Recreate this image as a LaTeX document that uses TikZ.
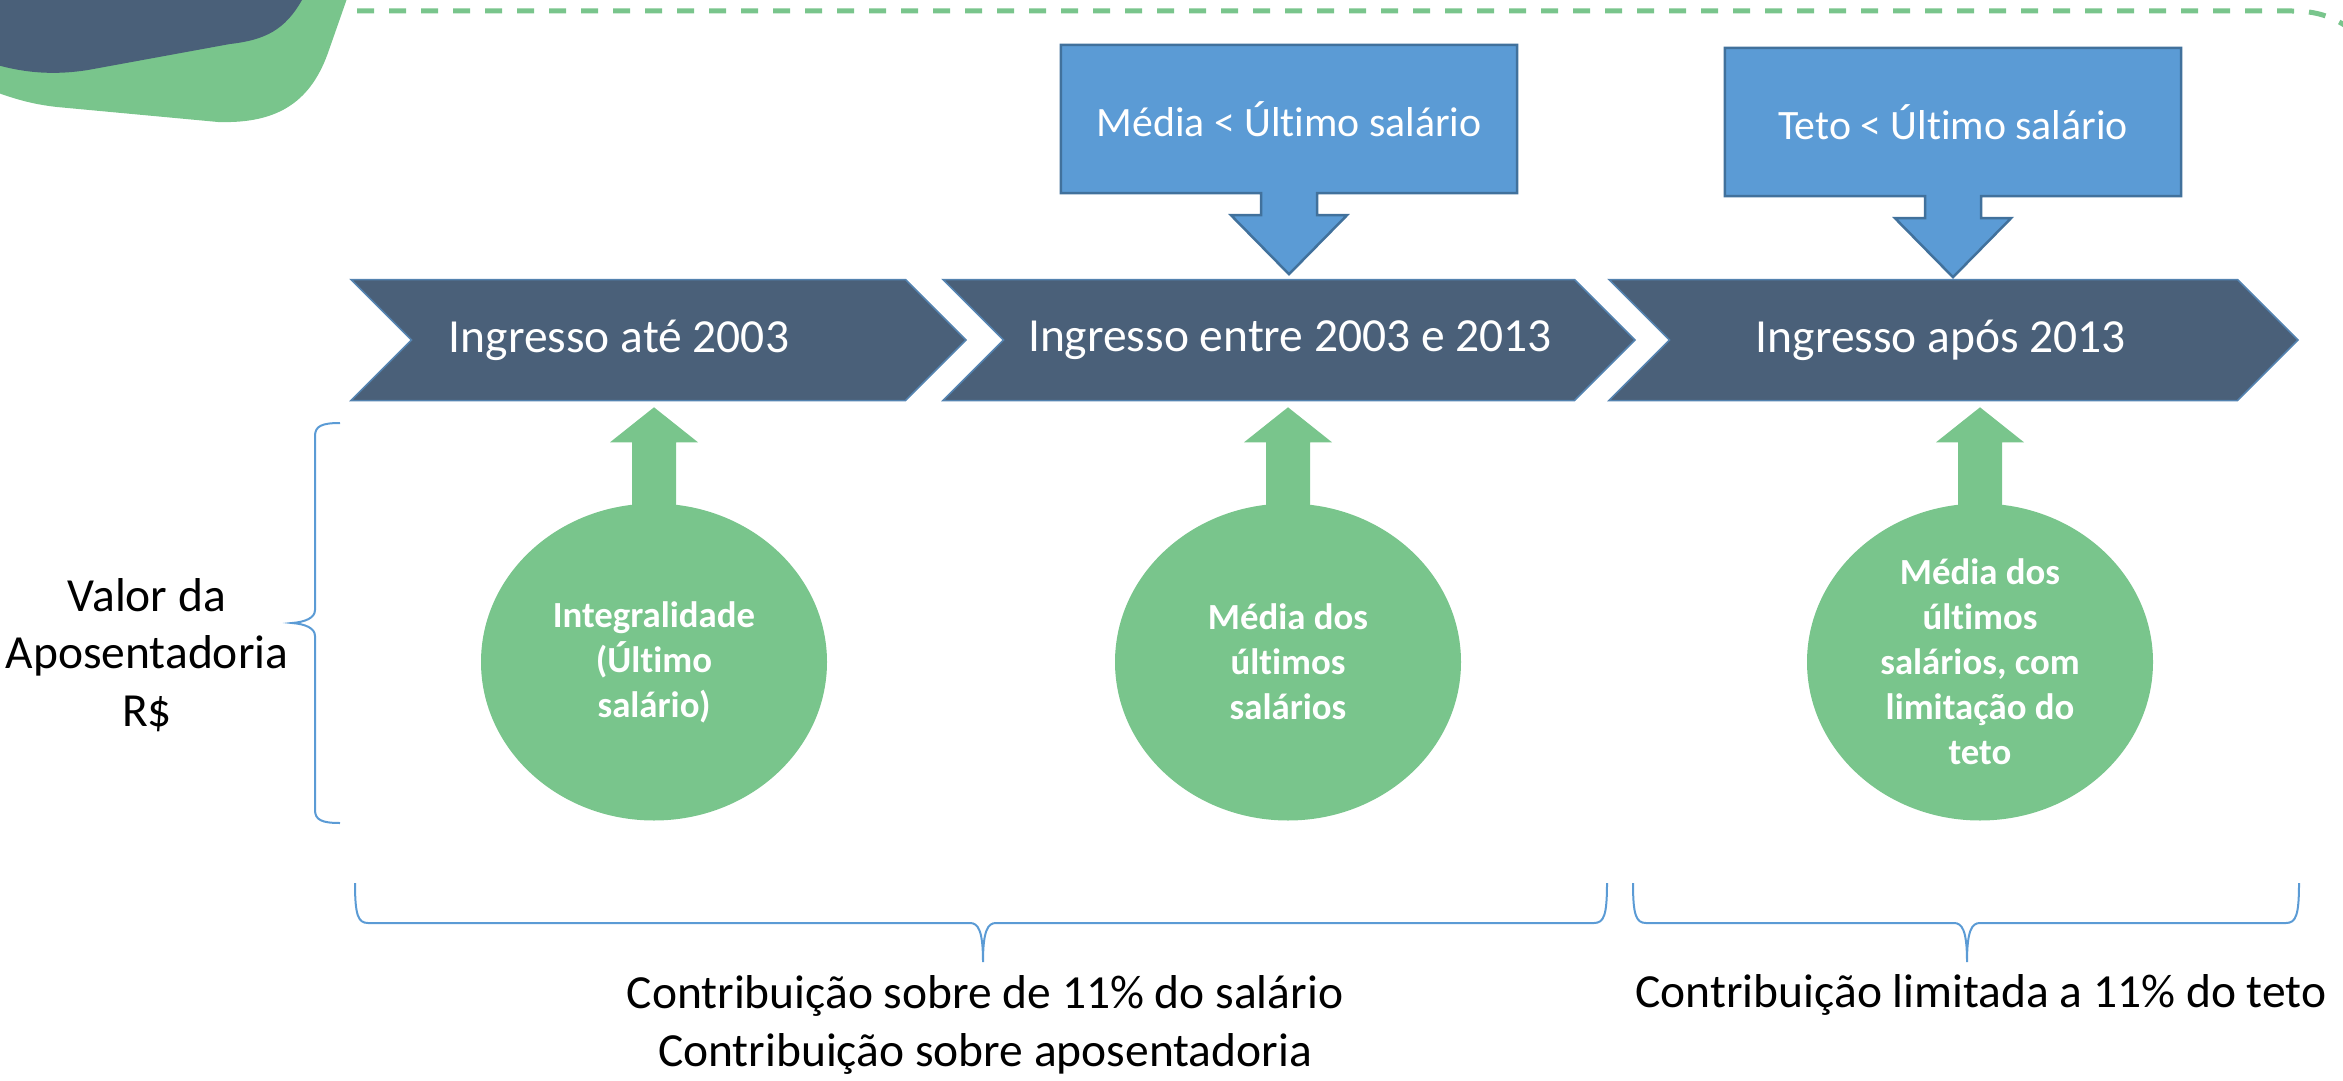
\documentclass[tikz,border=0pt]{standalone}
\usepackage{fontspec}
\setmainfont{Carlito}[Ligatures=NoCommon]
\usepackage{tikz}
\usetikzlibrary{shapes.symbols, shapes.geometric, positioning, backgrounds}

\definecolor{chevblue}{HTML}{4A6079}
\definecolor{callblue}{HTML}{5B9BD5}
\definecolor{callline}{HTML}{41719C}
\definecolor{leafgreen}{HTML}{79C58C}

\tikzset{
	chevron/.style={signal, signal to=east, signal from=west, signal pointer angle=90,
		fill=chevblue, draw=callblue!60!chevblue, line width=1.5pt,
		inner sep=0pt, outer sep=0pt, minimum height=121pt},
	chevtext/.style={text=white, font=\fontsize{47.5}{57}\selectfont},
	callbox/.style={minimum width=456pt, minimum height=148pt, inner sep=0pt,
		text=white, font=\fontsize{41.8}{50}\selectfont},
	callshape/.style={fill=callblue, draw=callline, line width=2.5pt},
	bubble/.style={ellipse, fill=leafgreen, minimum width=346pt, minimum height=317pt,
		inner sep=0pt, align=center, text=white,
		font=\fontsize{36.8}{45}\selectfont\bfseries},
	uparrow/.style={fill=leafgreen},
	bigtext/.style={align=center, font=\fontsize{47.5}{57.5}\selectfont},
	curly/.style={draw=callblue, line width=2pt},
	dashline/.style={draw=leafgreen, line width=5pt, dash pattern=on 17pt off 15pt}
}

\begin{document}
\begin{tikzpicture}[x=1pt, y=-1pt]
	\useasboundingbox (0,0) rectangle (2343,1081);
	
	% corner
	\fill[leafgreen] (-10,-10) -- (350,-10) -- (329,50) .. controls (312,100) and (280,124) .. (218,122)
		-- (57,107) .. controls (30,104) and (12,98) .. (-10,90) -- cycle;
	\fill[chevblue] (-10,-10) -- (306,-10) -- (302,0) .. controls (285,30) and (265,40) .. (230,44)
		-- (88,70) .. controls (50,76) and (20,72) .. (-10,63) -- cycle;
	\draw[dashline] (357,11) -- (2292,11) .. controls (2316,11) and (2332,16) .. (2352,30);
	
	% chevrons
	\node[chevron, minimum width=615pt] (c1) at (658.5,340) {};
	\node[chevron, minimum width=692pt] (c2) at (1289,340) {};
	\node[chevron, minimum width=689pt] (c3) at (1953.5,340) {};
	\node[chevtext] (t1) at (619,340) {Ingresso até 2003};
	\node[chevtext] (t2) at (1290,340) {Ingresso entre 2003 e 2013};
	\node[chevtext] (t3) at (1941,340) {Ingresso após 2013};
	
	% callouts
	\node[callbox] (media) at (1289,119) {Média < Último salário};
	\node[callbox] (teto) at (1953,122) {Teto < Último salário};
	\begin{scope}[on background layer]
		\draw[callshape] (media.north west) -- (media.north east) -- (media.south east)
			-- ([xshift=28pt]media.south) -- ++(0,22) -- ++(30,0) -- ++(-58,59) -- ++(-58,-59)
			-- ++(30,0) -- ++(0,-22) -- (media.south west) -- cycle;
		\draw[callshape] (teto.north west) -- (teto.north east) -- (teto.south east)
			-- ([xshift=28pt]teto.south) -- ++(0,22) -- ++(30,0) -- ++(-58,59) -- ++(-58,-59)
			-- ++(30,0) -- ++(0,-22) -- (teto.south west) -- cycle;
	\end{scope}
	
	% bubbles
	\node[bubble] (integral) at (654,662) {Integralidade\\(Último\\salário)};
	\node[bubble] (mediab) at (1288,662) {Média dos\\últimos\\salários};
	\node[bubble] (tetob) at (1980,662) {Média dos\\últimos\\salários, com\\limitação do\\teto};
	\fill[uparrow] ([xshift=-22pt,yshift=-12pt]integral.north) -- ++(0,-73) -- ++(-22,0)
		-- ++(44,-35) -- ++(44,35) -- ++(-22,0) -- ++(0,73) -- cycle;
	\fill[uparrow] ([xshift=-22pt,yshift=-12pt]mediab.north) -- ++(0,-73) -- ++(-22,0)
		-- ++(44,-35) -- ++(44,35) -- ++(-22,0) -- ++(0,73) -- cycle;
	\fill[uparrow] ([xshift=-22pt,yshift=-12pt]tetob.north) -- ++(0,-73) -- ++(-22,0)
		-- ++(44,-35) -- ++(44,35) -- ++(-22,0) -- ++(0,73) -- cycle;
	
	% braces
	\draw[curly] (340,423) .. controls (322,423) and (315,426) .. (315,436) -- (315,610)
		.. controls (315,618) and (305,622) .. (292,623) .. controls (305,624) and (315,628) .. (315,636)
		-- (315,810) .. controls (315,820) and (322,823) .. (340,823);
	\draw[curly] (355,883) .. controls (355,915) and (358,923) .. (368,923) -- (970,923)
		.. controls (978,923) and (983,930) .. (983,962) .. controls (983,930) and (988,923) .. (996,923)
		-- (1594,923) .. controls (1604,923) and (1607,915) .. (1607,883);
	\draw[curly] (1633,883) .. controls (1633,915) and (1636,923) .. (1646,923) -- (1954,923)
		.. controls (1962,923) and (1967,930) .. (1967,962) .. controls (1967,930) and (1972,923) .. (1980,923)
		-- (2286,923) .. controls (2296,923) and (2299,915) .. (2299,883);
	
	% labels
	\node[bigtext] (valor) at (147,655) {Valor da\\Aposentadoria\\R\$};
	\node[bigtext] (contrib) at (985,1025) {Contribuição sobre de 11\% do salário\\Contribuição sobre aposentadoria};
	\node[bigtext] (limite) at (1981,995) {Contribuição limitada a 11\% do teto};
\end{tikzpicture}
\end{document}
